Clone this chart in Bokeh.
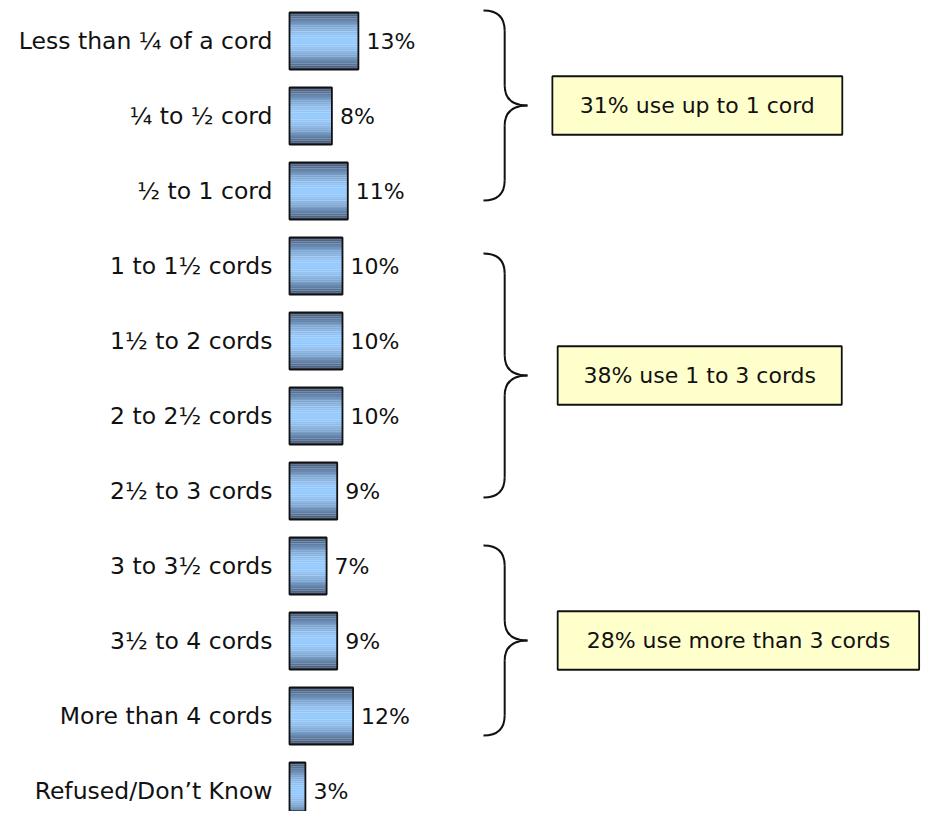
from bokeh.plotting import figure
from bokeh.models import Range1d, ColumnDataSource
from bokeh.embed import file_html
from bokeh.resources import INLINE
from bokeh.core.properties import value

# ---------------- data ----------------
categories = [
    "Less than ¼ of a cord",
    "¼ to ½ cord",
    "½ to 1 cord",
    "1 to 1½ cords",
    "1½ to 2 cords",
    "2 to 2½ cords",
    "2½ to 3 cords",
    "3 to 3½ cords",
    "3½ to 4 cords",
    "More than 4 cords",
    "Refused/Don’t Know",
]
percents = [13, 8, 11, 10, 10, 10, 9, 7, 9, 12, 3]
pct_labels = [f"{v}%" for v in percents]

group_labels = ["31% use up to 1 cord", "38% use 1 to 3 cords", "28% use more than 3 cords"]

# ---------------- layout (annotation geometry, data units) ----------------
W, H = 921, 811
PX_PER_PCT = 5.3
X0_PX = 289          # pixel position of 0%
ROW_PX = 75.0
ROW0_PX = 40.5       # pixel y of first row centre
BAR_H = 0.76

x_start = -X0_PX / PX_PER_PCT
x_end = (W - X0_PX) / PX_PER_PCT
y_top = -ROW0_PX / ROW_PX
y_bot = (H - ROW0_PX) / ROW_PX

brace_top = [-0.407, 2.833, 6.727]
brace_bot = [2.127, 6.087, 9.26]
brace_xl, brace_xm, brace_xt = 36.6, 40.6, 44.9
brace_r = 0.27
box_left = [49.6, 50.6, 50.6]
box_right = [104.3, 104.2, 118.8]
box_half_h = 0.39

FONT = "DejaVu Sans"

p = figure(width=W, height=H, output_backend="svg", toolbar_location=None,
           x_range=Range1d(x_start, x_end), y_range=Range1d(y_bot, y_top),
           min_border=0, outline_line_color=None)
p.axis.visible = False
p.grid.visible = False
p.background_fill_color = "white"
p.border_fill_color = "white"

# ---------------- gradient bars ----------------
N = 30
light = (153, 204, 255)
dark = (62, 80, 108)
ys, rights, colors = [], [], []
for i, v in enumerate(percents):
    for k in range(N):
        f = (k + 0.5) / N
        t = abs(f - 0.5) * 2
        w = t ** 1.7
        c = tuple(int(round(light[j] + (dark[j] - light[j]) * w)) for j in range(3))
        ys.append(i - BAR_H / 2 + f * BAR_H)
        rights.append(v)
        colors.append("#%02x%02x%02x" % c)
strips = ColumnDataSource(dict(y=ys, right=rights, color=colors))
p.hbar(y="y", left=0, right="right", height=BAR_H / N * 1.05, fill_color="color",
       line_color=None, source=strips)

bars = ColumnDataSource(dict(y=list(range(len(categories))), right=percents,
                             cat=categories, lab=pct_labels))
p.hbar(y="y", left=0, right="right", height=BAR_H, fill_alpha=0,
       line_color="#111111", line_width=1.8, source=bars)

p.text(x=0, y="y", text="cat", source=bars, x_offset=-17, text_align="right",
       text_baseline="middle", text_font=value(FONT), text_font_size="23.5px",
       text_color="#111111")
p.text(x="right", y="y", text="lab", source=bars, x_offset=8, text_align="left",
       text_baseline="middle", text_font=value(FONT), text_font_size="22px",
       text_color="#111111")

# ---------------- braces ----------------
qx0, qy0, qx1, qy1, qcx, qcy = [], [], [], [], [], []
sx0, sy0, sx1, sy1 = [], [], [], []
for t, b in zip(brace_top, brace_bot):
    m = (t + b) / 2
    r = brace_r
    qx0 += [brace_xl]; qy0 += [t]; qx1 += [brace_xm]; qy1 += [t + r]; qcx += [brace_xm]; qcy += [t]
    qx0 += [brace_xm]; qy0 += [m - r]; qx1 += [brace_xt]; qy1 += [m]; qcx += [brace_xm]; qcy += [m]
    qx0 += [brace_xt]; qy0 += [m]; qx1 += [brace_xm]; qy1 += [m + r]; qcx += [brace_xm]; qcy += [m]
    qx0 += [brace_xm]; qy0 += [b - r]; qx1 += [brace_xl]; qy1 += [b]; qcx += [brace_xm]; qcy += [b]
    sx0 += [brace_xm, brace_xm]; sy0 += [t + r, m + r]
    sx1 += [brace_xm, brace_xm]; sy1 += [m - r, b - r]

p.quadratic(x0=qx0, y0=qy0, x1=qx1, y1=qy1, cx=qcx, cy=qcy, line_color="#111111", line_width=2)
p.segment(x0=sx0, y0=sy0, x1=sx1, y1=sy1, line_color="#111111", line_width=2)

# ---------------- boxes ----------------
mids = [(t + b) / 2 for t, b in zip(brace_top, brace_bot)]
boxes = ColumnDataSource(dict(left=box_left, right=box_right,
                              top=[m - box_half_h for m in mids],
                              bottom=[m + box_half_h for m in mids],
                              x=[(l + r) / 2 for l, r in zip(box_left, box_right)],
                              y=mids, lab=group_labels))
p.quad(left="left", right="right", top="top", bottom="bottom", source=boxes,
       fill_color="#ffffcc", line_color="#111111", line_width=1.8)
p.text(x="x", y="y", text="lab", source=boxes, text_align="center", text_baseline="middle",
       text_font=value(FONT), text_font_size="22px", text_color="#111111")

open("out.html", "w").write(file_html(p, INLINE))
